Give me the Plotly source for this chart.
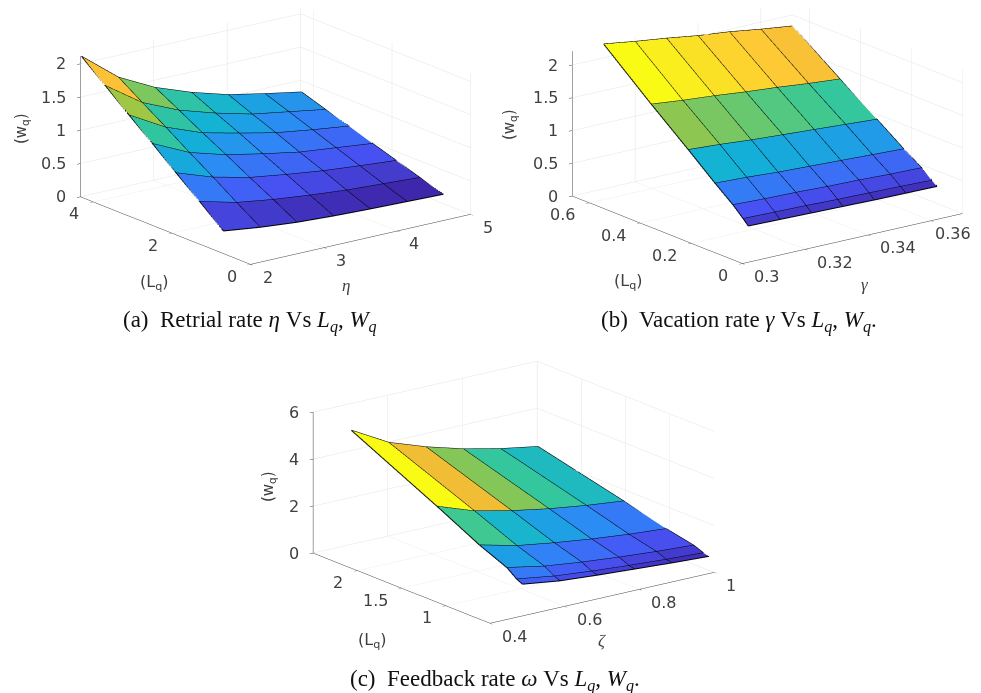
import plotly.graph_objects as go

# the page adds an 8 px body margin; figure positions below are page positions minus it
W, H = 981, 693
PAGE = 8

# ---- data ----
eta = [2, 2.5, 3, 3.5, 4, 4.5, 5]
lq_a = [0.69, 1.29, 1.89, 2.49, 3.09, 3.69, 4.30]
wq_a = [
    [0.34, 0.27, 0.22, 0.19, 0.17, 0.155, 0.14],
    [0.64, 0.50, 0.42, 0.36, 0.31, 0.28, 0.25],
    [0.93, 0.74, 0.61, 0.53, 0.46, 0.41, 0.365],
    [1.23, 0.97, 0.81, 0.70, 0.60, 0.54, 0.48],
    [1.52, 1.21, 1.00, 0.87, 0.75, 0.67, 0.60],
    [1.82, 1.44, 1.20, 1.03, 0.89, 0.80, 0.71],
    [2.12, 1.68, 1.40, 1.20, 1.04, 0.93, 0.83],
]
gamma = [0.31, 0.32, 0.33, 0.34, 0.35, 0.36, 0.37]
lq_b = [0.10, 0.12, 0.16, 0.23, 0.335, 0.48, 0.667]
wq_b = [
    [0.31, 0.30, 0.29, 0.28, 0.27, 0.265, 0.26],
    [0.39, 0.38, 0.37, 0.355, 0.345, 0.335, 0.32],
    [0.54, 0.52, 0.51, 0.49, 0.48, 0.46, 0.45],
    [0.76, 0.74, 0.71, 0.69, 0.67, 0.65, 0.63],
    [1.11, 1.08, 1.04, 1.01, 0.98, 0.95, 0.92],
    [1.58, 1.53, 1.49, 1.44, 1.40, 1.35, 1.31],
    [2.21, 2.14, 2.08, 2.01, 1.96, 1.89, 1.83],
]
zeta = [0.5, 0.6, 0.7, 0.8, 0.9, 1.0]
lq_c = [0.556, 0.62, 0.73, 1.04, 1.52, 2.49]
wq_c = [
    [1.22, 1.00, 0.88, 0.78, 0.68, 0.60],
    [1.34, 1.10, 0.95, 0.83, 0.73, 0.65],
    [1.66, 1.36, 1.17, 1.02, 0.90, 0.81],
    [2.16, 1.77, 1.53, 1.33, 1.17, 1.05],
    [3.09, 2.53, 2.18, 1.90, 1.68, 1.51],
    [4.88, 4.00, 3.45, 3.00, 2.65, 2.38],
]

ticks_a = dict(x=[2, 3, 4, 5], y=[0, 2, 4], z=[0, 0.5, 1, 1.5, 2])
ticks_b = dict(x=[0.3, 0.32, 0.34, 0.36], y=[0, 0.2, 0.4, 0.6], z=[0, 0.5, 1, 1.5, 2])
ticks_c = dict(x=[0.4, 0.6, 0.8, 1], y=[1, 1.5, 2], z=[0, 2, 4, 6])

parula = [
    [0 / 7, "rgb(62,38,168)"], [1 / 7, "rgb(72,82,244)"], [2 / 7, "rgb(46,135,247)"],
    [3 / 7, "rgb(18,177,214)"], [4 / 7, "rgb(55,200,151)"], [5 / 7, "rgb(171,199,57)"],
    [0.77, "rgb(236,186,50)"], [6 / 7, "rgb(254,195,56)"], [7 / 7, "rgb(249,251,21)"],
]

TICK = dict(family="DejaVu Sans", size=16, color="#404040")


def axis(rng, vals):
    return dict(
        range=rng, tickvals=vals, showticklabels=False, title=dict(text=""),
        showgrid=True, gridcolor="#e4e4e4", gridwidth=1, zeroline=False,
        showline=True, linecolor="#404040", linewidth=1, ticks="outside", ticklen=4,
        tickcolor="#404040", showbackground=False, showspikes=False,
    )


def tick_notes(ticks, xr, yr, last_x_shift=10):
    out = []
    for v in ticks["x"]:
        out.append(dict(x=v, y=yr[0], z=0, text=f"{v:g}", showarrow=False, font=TICK,
                        xanchor="left", yanchor="middle",
                        xshift=last_x_shift if v == ticks["x"][-1] else 10, yshift=-13))
    for v in ticks["y"]:
        out.append(dict(x=xr[0], y=v, z=0, text=f"{v:g}", showarrow=False, font=TICK,
                        xanchor="right", yanchor="middle", xshift=-12, yshift=-12))
    for v in ticks["z"]:
        out.append(dict(x=xr[0], y=yr[1], z=v, text=f"{v:g}", showarrow=False, font=TICK,
                        xanchor="right", yanchor="middle", xshift=-12, yshift=0))
    return out


fig = go.Figure()


def add_surface(xs, ys, zs, scene, upper):
    nx, ny = len(xs), len(ys)
    X, Y, Z, I, J, K, C = [], [], [], [], [], [], []
    for j in range(ny):
        for i in range(nx):
            X.append(xs[i]); Y.append(ys[j]); Z.append(zs[j][i])
    for j in range(ny - 1):
        for i in range(nx - 1):
            a = j * nx + i
            b, c, d = a + 1, a + nx, a + nx + 1
            I += [a, a]; J += [b, d]; K += [d, c]
            v = zs[j + 1][i] if upper else zs[j][i]
            C += [v, v]
    zall = [v for row in zs for v in row]
    fig.add_trace(go.Mesh3d(
        x=X, y=Y, z=Z, i=I, j=J, k=K, intensity=C, intensitymode="cell",
        colorscale=parula, cmin=min(zall), cmax=max(zall), showscale=False,
        flatshading=True, hoverinfo="skip", scene=scene,
        lighting=dict(ambient=1, diffuse=0, specular=0, roughness=1, fresnel=0),
    ))
    lx, ly, lz = [], [], []
    for j in range(ny):
        lx += list(xs) + [None]; ly += [ys[j]] * nx + [None]; lz += list(zs[j]) + [None]
    for i in range(nx):
        lx += [xs[i]] * ny + [None]; ly += list(ys) + [None]
        lz += [zs[j][i] for j in range(ny)] + [None]
    fig.add_trace(go.Scatter3d(
        x=lx, y=ly, z=lz, mode="lines", line=dict(color="#000000", width=2),
        hoverinfo="skip", showlegend=False, scene=scene,
    ))


add_surface(eta, lq_a, wq_a, "scene", False)
add_surface(gamma, lq_b, wq_b, "scene2", True)
add_surface(zeta, lq_c, wq_c, "scene3", True)


def dom(x0, x1, y0, y1):
    return dict(x=[x0 / W, x1 / W], y=[1 - y1 / H, 1 - y0 / H])


VIEW = (-1.15, -1.52, 0.60)


def scene(domain, xr, yr, zr, ticks, ratio, center, last_x_shift=10):
    return dict(
        domain=domain, xaxis=axis(xr, ticks["x"]), yaxis=axis(yr, ticks["y"]),
        zaxis=axis(zr, ticks["z"]), aspectmode="manual",
        aspectratio=dict(x=ratio[0], y=ratio[1], z=ratio[2]),
        camera=dict(projection=dict(type="orthographic"), up=dict(x=0, y=0, z=1),
                    eye=dict(x=VIEW[0] + center[0], y=VIEW[1] + center[1], z=VIEW[2] + center[2]),
                    center=dict(x=center[0], y=center[1], z=center[2])),
        bgcolor="rgba(0,0,0,0)",
        annotations=tick_notes(ticks, xr, yr, last_x_shift),
    )


RATIO = (1.84, 1.88, 0.985)
fig.update_layout(
    width=W, height=H, margin=dict(l=0, r=0, t=0, b=0), paper_bgcolor="white",
    showlegend=False,
    scene=scene(dom(0, 520, 0, 300), [2, 5], [0, 4.33], [0, 2.12], ticks_a,
                RATIO, (-0.04, 0.03, -0.16)),
    scene2=scene(dom(500, 981, 0, 300), [0.3, 0.37], [0, 0.667], [0, 2.21], ticks_b,
                 (1.84, 1.88, 1.012), (-0.10, 0.076, -0.179), last_x_shift=2),
    scene3=scene(dom(250, 780, 350, 650), [0.4, 1], [0.5, 2.5], [0, 6], ticks_c,
                 (1.873, 1.955, 0.985), (0.05, -0.038, -0.11)),
)

LAB = dict(family="DejaVu Sans", size=16, color="#404040")
WQ = dict(family="DejaVu Sans", size=15, color="#404040")
SYM = dict(family="Liberation Serif", size=17, color="#404040")
CAP = dict(family="Liberation Serif", size=23, color="#111111")


def note(px, py, text, font, angle=0):
    fig.add_annotation(x=(px - PAGE) / W, y=1 - (py - PAGE) / H, xref="paper", yref="paper",
                       text=text, showarrow=False, font=font, textangle=angle,
                       xanchor="center", yanchor="middle")


for px, py, t in [(154, 282, "(L<sub>q</sub>)"), (628, 281, "(L<sub>q</sub>)"), (372, 640, "(L<sub>q</sub>)")]:
    note(px, py, t, LAB)
for px, py in [(21, 129), (510, 125), (269, 487)]:
    note(px, py, "(w<sub>q</sub>)", WQ, -90)
for px, py, t in [(346, 285, "<i>η</i>"), (865, 284, "<i>γ</i>"), (602, 640, "<i>ζ</i>")]:
    note(px, py, t, SYM)
note(250, 321, "(a)  Retrial rate <i>η</i> Vs <i>L<sub>q</sub></i>, <i>W<sub>q</sub></i>", CAP)
note(739, 321, "(b)  Vacation rate <i>γ</i> Vs <i>L<sub>q</sub></i>, <i>W<sub>q</sub></i>.", CAP)
note(495, 680, "(c)  Feedback rate <i>ω</i> Vs <i>L<sub>q</sub></i>, <i>W<sub>q</sub></i>.", CAP)

fig.write_html("out.html")
